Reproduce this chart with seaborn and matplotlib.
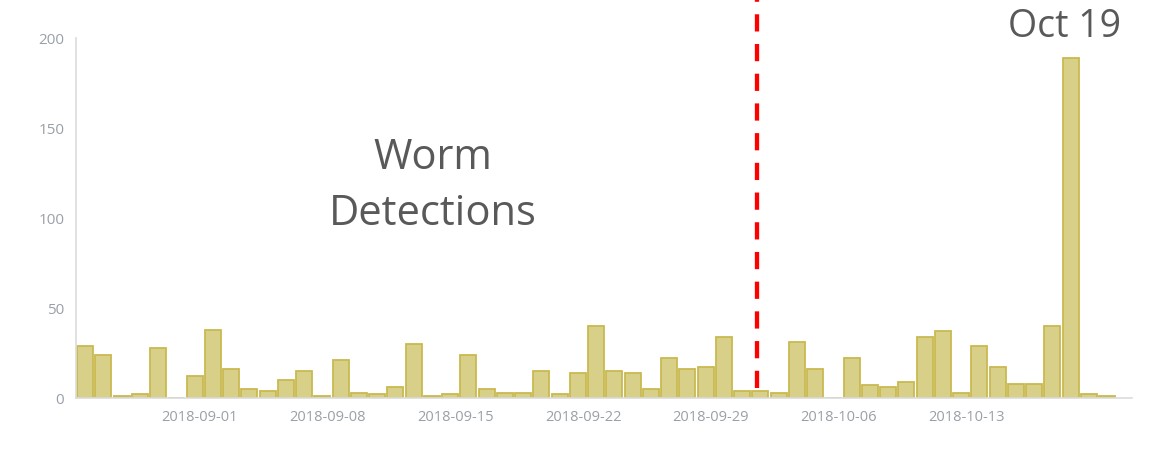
import matplotlib
matplotlib.use("Agg")
import matplotlib.pyplot as plt
import seaborn as sns
import pandas as pd
import numpy as np

# ---- data ----
start_date = "2018-08-26"
counts = [29, 24, 1, 2, 28, 0, 12, 38, 16, 5, 4, 10, 15, 1, 21, 3, 2, 6,
          30, 1, 2, 24, 5, 3, 3, 15, 2, 14, 40, 15, 14, 5, 22, 16, 17, 34,
          4, 4, 3, 31, 16, 0, 22, 7, 6, 9, 34, 37, 3, 29, 17, 8, 8, 40,
          189, 2, 1]
tick_dates = ["2018-09-01", "2018-09-08", "2018-09-15", "2018-09-22",
              "2018-09-29", "2018-10-06", "2018-10-13"]
y_ticks = [0, 50, 100, 150, 200]
event_date = "2018-10-02"
title_text = "Worm\nDetections"
peak_text = "Oct 19"

dates = pd.date_range(start_date, periods=len(counts), freq="D")
df = pd.DataFrame({"date": dates.strftime("%Y-%m-%d"), "count": counts})

sns.set_theme(style="white")
plt.rcParams["font.family"] = ["Open Sans", "DejaVu Sans"]

fig = plt.figure(figsize=(11.52, 4.54), dpi=100)
ax = fig.add_axes([76 / 1152, 1 - 398 / 454, (1132 - 76) / 1152, 360 / 454])

sns.barplot(data=df, x="date", y="count", ax=ax, color="#d8cf88",
            saturation=1, width=0.87, edgecolor="#c9b94f", linewidth=1.3)

ax.set_ylim(0, 200)
ax.set_xlim(-0.5, len(counts) + 0.36)

# date ticks: day boundaries sit a little right of each bar centre
idx = {d: i for i, d in enumerate(df["date"])}
tick_pos = [idx[d] + 0.29 for d in tick_dates]
all_ticks = [-0.5] + tick_pos + [len(counts) + 0.36]
ax.set_xticks(all_ticks)
ax.set_xticklabels([""] + tick_dates + [""])
ax.set_yticks(y_ticks)
ax.set_yticklabels([str(v) for v in y_ticks])
ax.set_xlabel("")
ax.set_ylabel("")

spine_c = "#dcdcdc"
for s in ["top", "right"]:
    ax.spines[s].set_visible(False)
for s in ["left", "bottom"]:
    ax.spines[s].set_color(spine_c)
    ax.spines[s].set_linewidth(1.2)
ax.tick_params(axis="both", colors=spine_c, labelcolor="#9aa0a8",
               labelsize=10.5, length=6.5, width=1.1, direction="out")
ax.tick_params(axis="y", labelsize=11, pad=2)
ax.tick_params(axis="x", pad=2)
ax.grid(False)

# event line
ev = idx[event_date] - 0.2
ax.axvline(ev, ymin=10 / 360, ymax=398 / 360, color="#ff0000", lw=3.1,
           linestyle=(0, (4, 2.9)), clip_on=False, zorder=5)

# annotations
fig.text(433 / 1152, 1 - 186 / 454, title_text, ha="center", va="center",
         fontsize=30, color="#595959", linespacing=1.45)
fig.text(1065 / 1152, 1 - 27 / 454, peak_text, ha="center", va="center",
         fontsize=27, color="#595959")

fig.savefig("out.png", dpi=100)
